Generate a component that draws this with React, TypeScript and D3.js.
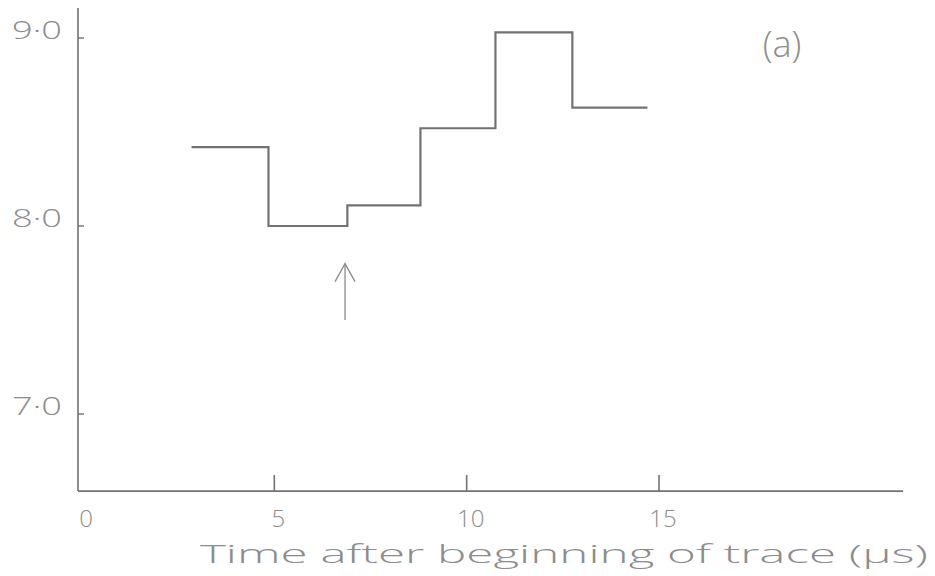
import React from "react";
import * as d3 from "d3";

// Step trace: each level holds from its start time to the next start time
const stepStarts = [2.9, 4.9, 6.95, 8.85, 10.8, 12.8];
const stepEnd = 14.75;
const stepValues = [8.42, 8.0, 8.11, 8.52, 9.03, 8.63];

// Axis ticks
const xTicks = [5, 10, 15];
const xTickLabels = ["0", "5", "10", "15"];
const xLabelValues = [0, 5, 10, 15];
const yTicks = [7, 8, 9];
const yTickLabels = ["7·0", "8·0", "9·0"];

// Marker arrow (time, from value, to value)
const arrowTime = [6.89];
const arrowFrom = [7.5];
const arrowTo = [7.8];

const W = 935;
const H = 576;
const ink = "#727272";
const textInk = "#8c8c8c";
const font = "'Open Sans', 'DejaVu Sans', sans-serif";

export default function App() {
  const x = d3.scaleLinear().domain([0, 15]).range([80, 657]);
  const y = d3.scaleLinear().domain([7, 9]).range([414, 38]);

  const x0 = 78;
  const xAxisEnd = 903;
  const yBase = y(6.59);
  const yTop = y(9.16);

  const pts: [number, number][] = stepStarts.map((t, i) => [t, stepValues[i]]);
  pts.push([stepEnd, stepValues[stepValues.length - 1]]);
  const line = d3
    .line<[number, number]>()
    .x((d) => x(d[0]))
    .y((d) => y(d[1]))
    .curve(d3.curveStepAfter);

  const ax = x(arrowTime[0]);
  const aTip = y(arrowTo[0]);
  const aTail = y(arrowFrom[0]);

  return (
    <svg
      width={W}
      height={H}
      style={{ position: "fixed", left: 0, top: 0, background: "#fff" }}
    >
      {/* axes */}
      <line x1={x0} y1={yTop} x2={x0} y2={yBase} stroke={ink} strokeWidth={1.6} />
      <line x1={x0} y1={yBase} x2={xAxisEnd} y2={yBase} stroke={ink} strokeWidth={1.8} />

      {/* y ticks and labels */}
      {yTicks.map((v, i) => (
        <g key={"y" + v}>
          <line x1={x0} x2={x0 + 6} y1={y(v)} y2={y(v)} stroke={ink} strokeWidth={1.4} />
          <text
            x={12}
            y={y(v) + 1}
            fontFamily={font}
            fontWeight={300}
            fontSize={25}
            fill={textInk}
            textLength={50}
            lengthAdjust="spacingAndGlyphs"
          >
            {yTickLabels[i]}
          </text>
        </g>
      ))}

      {/* x ticks */}
      {xTicks.map((t) => (
        <line
          key={"xt" + t}
          x1={x(t) + 2}
          x2={x(t) + 2}
          y1={yBase}
          y2={yBase - 16}
          stroke={ink}
          strokeWidth={1.6}
        />
      ))}
      {xLabelValues.map((t, i) => (
        <text
          key={"xl" + t}
          x={t === 0 ? 86 : x(t) + 6}
          y={527}
          textAnchor="middle"
          fontFamily={font}
          fontWeight={300}
          fontSize={24}
          fill={textInk}
        >
          {xTickLabels[i]}
        </text>
      ))}

      {/* axis title */}
      <text
        x={200}
        y={563}
        fontFamily={font}
        fontWeight={300}
        fontSize={26}
        fill={textInk}
        textLength={728}
        lengthAdjust="spacingAndGlyphs"
      >
        Time after beginning of trace (µs)
      </text>

      {/* step trace */}
      <path d={line(pts) || ""} fill="none" stroke={ink} strokeWidth={2.2} />

      {/* arrow */}
      <g stroke="#8a8a8a" strokeWidth={1.3} fill="none">
        <line x1={ax} x2={ax} y1={aTail} y2={aTip} />
        <polyline points={`${ax - 10},${aTip + 18} ${ax},${aTip} ${ax + 10},${aTip + 18}`} />
      </g>

      {/* panel tag */}
      <text
        x={782}
        y={57}
        textAnchor="middle"
        fontFamily={font}
        fontWeight={300}
        fontSize={36}
        fill={textInk}
      >
        (a)
      </text>
    </svg>
  );
}
